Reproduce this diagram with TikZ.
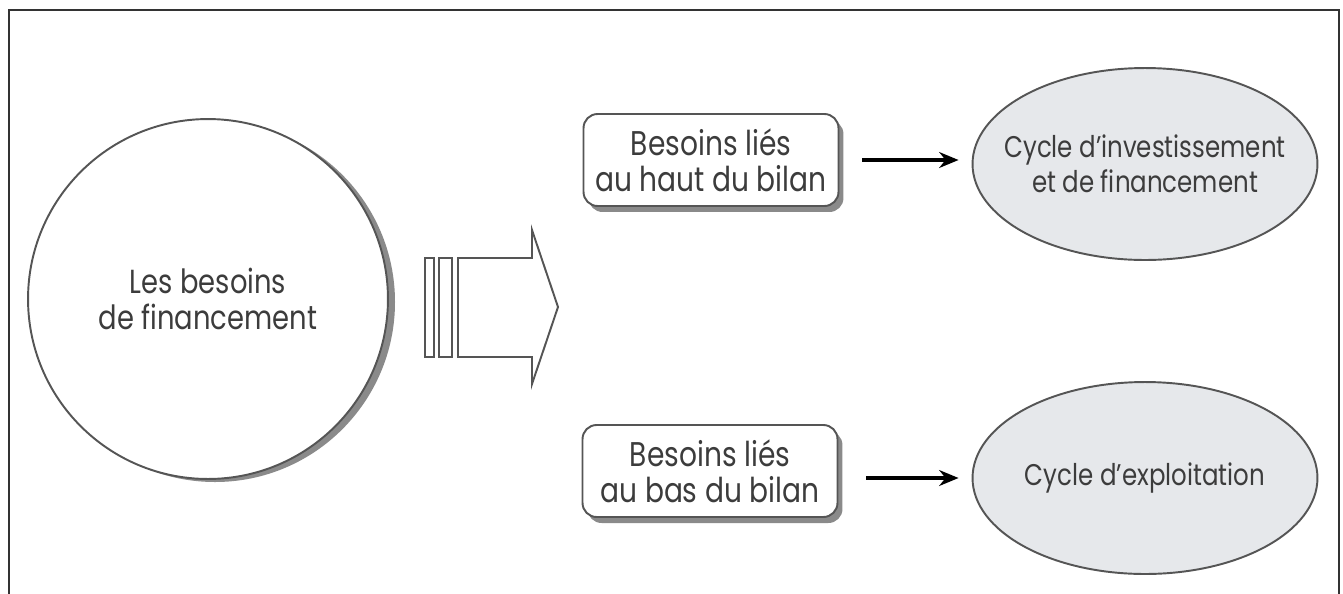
\documentclass[tikz,border=0pt]{standalone}
\usepackage{fontspec}
\setmainfont{Poppins}[FakeStretch=0.82]
\usetikzlibrary{shapes.geometric,arrows.meta}
\definecolor{txt}{HTML}{3C3C3C}
\definecolor{ln}{HTML}{555555}
\definecolor{shad}{HTML}{8A8A8A}
\definecolor{ellfill}{HTML}{E6E8EB}
\tikzset{
  lbl/.style={text=txt, align=center},
  rbox/.style={lbl, font=\fontsize{19.5}{20.5}\selectfont, draw=ln, line width=1.1pt, fill=white, rounded corners=8pt,
     minimum width=5.1cm, minimum height=1.84cm, inner sep=0pt},
  rshadow/.style={fill=shad, rounded corners=8pt, minimum width=5.1cm, minimum height=1.84cm, inner sep=0pt, draw=none},
  cyc/.style={lbl, font=\fontsize{17}{20}\selectfont, ellipse, draw=ln, line width=1.1pt, fill=ellfill,
     minimum width=6.9cm, minimum height=3.84cm, inner xsep=-0.6cm, inner ysep=0pt},
  conn/.style={line width=2.2pt, -{Stealth[length=11pt,width=9pt]}},
  frame/.style={draw=black!80, line width=1.2pt},
  blk/.style={draw=ln, line width=1.1pt, fill=white, line join=miter}
}
\begin{document}
\begin{tikzpicture}[x=0.02cm,y=-0.02cm]
\useasboundingbox (0,0) rectangle (1343,593);
% frame
\draw[frame] (9,605) -- (9,10) -- (1339,10) -- (1339,605);
% big circle with shadow
\fill[shad] (215,302) circle [radius=180];
\node[lbl, font=\fontsize{19}{20.5}\selectfont, circle, draw=ln, line width=1.1pt, fill=white, minimum size=7.2cm, inner sep=0pt] (bes) at (208,299) {Les besoins\\de financement};
% block arrow
\draw[blk] (425,258) rectangle (434,357);
\draw[blk] (439,258) rectangle (452,357);
\draw[blk] (458,258) -- (532,258) -- (532,230) -- (558,307) -- (532,384) -- (532,357) -- (458,357) -- cycle;
% boxes
\node[rshadow] at (716,166) {};
\node[rbox] (haut) at (711,160) {Besoins liés\\au haut du bilan};
\node[rshadow] at (715,477) {};
\node[rbox] (bas) at (710,471) {Besoins liés\\au bas du bilan};
% ellipses
\node[cyc] (inv) at (1145,164) {Cycle d’investissement\\et de financement};
\node[cyc] (exp) at (1145,478) {Cycle d’exploitation};
% connectors
\draw[conn, shorten <=0.46cm, shorten >=0.26cm] (haut.east) -- (haut.east -| inv.west);
\draw[conn, shorten <=0.56cm, shorten >=0.26cm] (bas.east |- exp.west) -- (exp.west);
\end{tikzpicture}
\end{document}
